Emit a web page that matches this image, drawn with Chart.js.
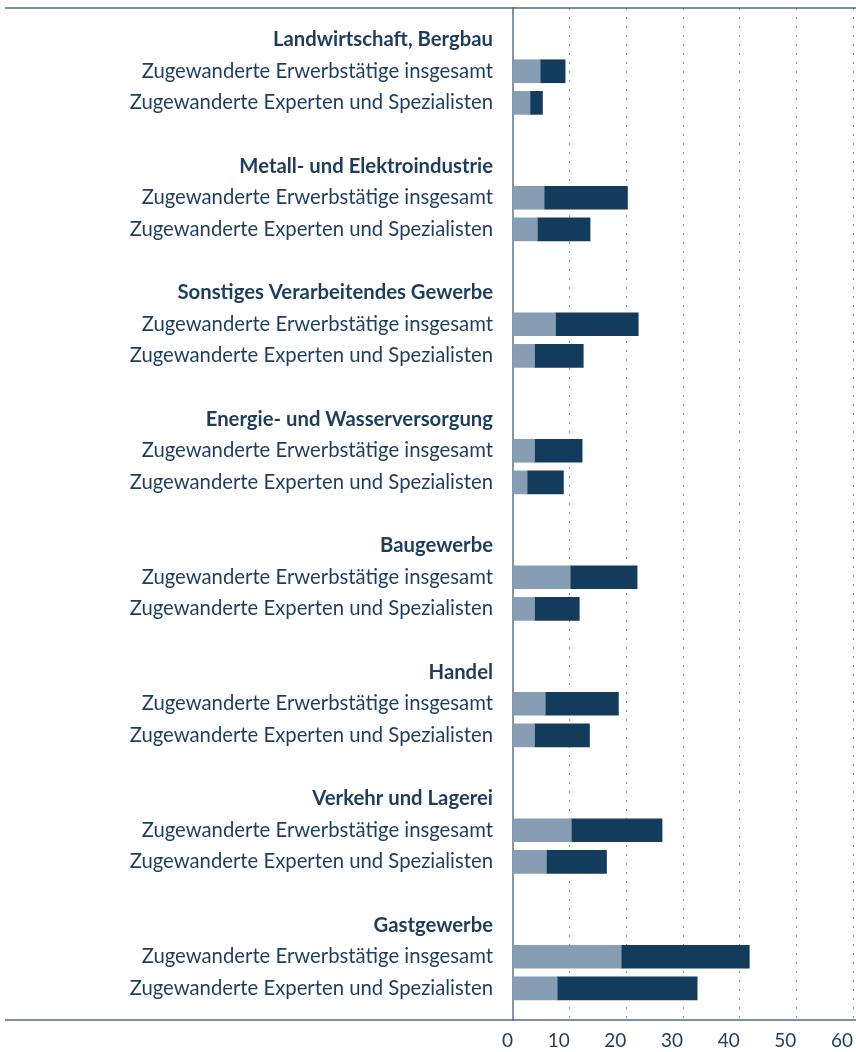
<!DOCTYPE html>
<html>
<head>
<meta charset="utf-8">
<script src="https://cdn.jsdelivr.net/npm/chart.js@4"></script>
<style>
  body { margin: 0; background: #fff; }
</style>
</head>
<body>
<canvas id="bar-chart" width="856" height="1052"></canvas>
<script>
var branches = ["Landwirtschaft, Bergbau", "Metall- und Elektroindustrie", "Sonstiges Verarbeitendes Gewerbe",
    "Energie- und Wasserversorgung", "Baugewerbe", "Handel", "Verkehr und Lagerei", "Gastgewerbe"];
var rowLabels = ["Zugewanderte Erwerbstätige insgesamt", "Zugewanderte Experten und Spezialisten"];

// light part and dark part of each bar
var insgesamtLight = [4.8, 5.5, 7.5, 3.8, 10.1, 5.7, 10.3, 19.1];
var insgesamtDark  = [4.4, 14.7, 14.6, 8.4, 11.8, 12.9, 16.0, 22.6];
var expertenLight  = [3.0, 4.3, 3.8, 2.5, 3.8, 3.8, 5.9, 7.8];
var expertenDark   = [2.2, 9.3, 8.6, 6.4, 7.9, 9.7, 10.6, 24.7];

var xTicks = [0, 10, 20, 30, 40, 50, 60];

var textColor = "#1d3d5e";
var fontFamily = "Lato, 'Noto Sans', sans-serif";

// build rows: blank, then header / insgesamt / experten / blank per branch
var labels = [""], isHeader = [false], lightData = [null], darkData = [null];
branches.forEach(function(b, i) {
    labels.push(b, rowLabels[0], rowLabels[1], "");
    isHeader.push(true, false, false, false);
    lightData.push(null, insgesamtLight[i], expertenLight[i], null);
    darkData.push(null, insgesamtDark[i], expertenDark[i], null);
});

// full width rules at top and bottom of the plot
var framePlugin = {
    id: "frame",
    afterDraw: function(chart) {
        var c = chart.ctx, a = chart.chartArea;
        c.save();
        c.lineWidth = 1.5;
        c.strokeStyle = "#4f6b88";
        c.beginPath();
        c.moveTo(5, a.top); c.lineTo(chart.width, a.top);
        c.moveTo(5, a.bottom); c.lineTo(chart.width, a.bottom);
        c.stroke();
        c.restore();
    }
};

var ctx = document.getElementById("bar-chart").getContext("2d");
var barChart = new Chart(ctx, {
    type: "bar",
    data: {
        labels: labels,
        datasets: [
            { data: lightData, backgroundColor: "#869db3", barThickness: 23 },
            { data: darkData, backgroundColor: "#123b5c", barThickness: 23 }
        ]
    },
    options: {
        indexAxis: "y",
        responsive: false,
        animation: false,
        layout: { padding: { top: 8, right: 3, left: 5, bottom: 0 } },
        plugins: { legend: { display: false }, tooltip: { enabled: false } },
        scales: {
            x: {
                stacked: true,
                min: 0,
                max: 60,
                afterBuildTicks: function(scale) {
                    scale.ticks = xTicks.map(function(v) { return { value: v }; });
                },
                afterFit: function(scale) {
                    scale.paddingLeft = 0;
                    scale.paddingRight = 0;
                    scale.height = 32;
                },
                grid: {
                    drawTicks: false,
                    lineWidth: 1,
                    color: function(c) { return c.tick && c.tick.value === 0 ? "transparent" : "#7f9cb8"; }
                },
                border: { display: false, dash: [2, 7] },
                ticks: {
                    align: "end",
                    padding: 9,
                    color: textColor,
                    font: { family: fontFamily, size: 19 }
                }
            },
            y: {
                stacked: true,
                offset: false,
                grid: { display: false, drawTicks: false },
                border: { display: true, color: "#8097ad", width: 2 },
                afterFit: function(scale) {
                    scale.width = 508;
                    scale.paddingTop = 0;
                    scale.paddingBottom = 0;
                },
                ticks: {
                    autoSkip: false,
                    padding: 20,
                    color: textColor,
                    font: function(c) {
                        return { family: fontFamily, size: 20.3, weight: isHeader[c.index] ? "bold" : "normal" };
                    }
                }
            }
        }
    },
    plugins: [framePlugin]
});
</script>
</body>
</html>
